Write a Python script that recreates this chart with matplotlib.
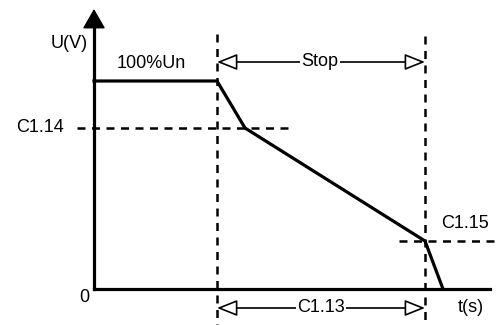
import matplotlib
matplotlib.use('Agg')
import matplotlib.pyplot as plt

plt.rcParams['font.family'] = ['Liberation Sans', 'DejaVu Sans']

# voltage profile during stop (units, origin at 0)
t_curve = [0, 123, 151, 331, 349]
u_curve = [208, 208, 161, 48, 0]

t_stop_start = 123
t_stop_end = 331
u_c114 = 161
u_c115 = 48

fig = plt.figure(figsize=(4.99, 3.25), dpi=100)
ax = fig.add_axes([0, 0, 1, 1])
ax.set_xlim(-94, 405)
ax.set_ylim(-36, 289)
ax.axis('off')

# axes with arrows
ax.plot([0, 0], [0, 272], color='black', lw=2.3, solid_capstyle='projecting')
ax.plot([0, 396], [0, 0], color='black', lw=2.3, solid_capstyle='projecting')
ax.annotate('', xy=(0, 280), xytext=(0, 262),
            arrowprops=dict(arrowstyle='-|>,head_length=1.25,head_width=0.72',
                            color='black', lw=1, shrinkA=0, shrinkB=0))
ax.annotate('', xy=(406, 0), xytext=(388, 0),
            arrowprops=dict(arrowstyle='-|>,head_length=1.25,head_width=0.72',
                            color='black', lw=1, shrinkA=0, shrinkB=0))

# dashed guides
dash = (0, (3.2, 2.6))
ax.plot([t_stop_start, t_stop_start], [255, -36], color='black', lw=1.8, ls=dash)
ax.plot([t_stop_end, t_stop_end], [253, -36], color='black', lw=1.8, ls=dash)
ax.plot([-17, 196], [u_c114, u_c114], color='black', lw=1.8, ls=dash)
ax.plot([305, 405], [u_c115, u_c115], color='black', lw=1.8, ls=dash)

# curve
ax.plot(t_curve, u_curve, color='black', lw=2.3, solid_joinstyle='miter')

# dimension arrows
for y, label, xc in [(227, 'Stop', 226), (-19, 'C1.13', 227)]:
    ax.annotate('', xy=(t_stop_end, y), xytext=(t_stop_start, y),
                arrowprops=dict(arrowstyle='<|-|>,head_length=1.25,head_width=0.5',
                                fc='white', ec='black', lw=1.2, shrinkA=0, shrinkB=0))
    ax.text(xc, y, label, fontsize=13, ha='center', va='center',
            bbox=dict(fc='white', ec='none', pad=1))

# labels
ax.text(-25, 246, 'U(V)', fontsize=13, ha='center', va='center')
ax.text(57, 226, '100%Un', fontsize=13, ha='center', va='center')
ax.text(-54, u_c114, 'C1.14', fontsize=13, ha='center', va='center')
ax.text(-10, -9, '0', fontsize=13, ha='center', va='center')
ax.text(371, 66, 'C1.15', fontsize=13, ha='center', va='center')
ax.text(377, -19, 't(s)', fontsize=13, ha='center', va='center')

fig.savefig('out.png', dpi=100)
